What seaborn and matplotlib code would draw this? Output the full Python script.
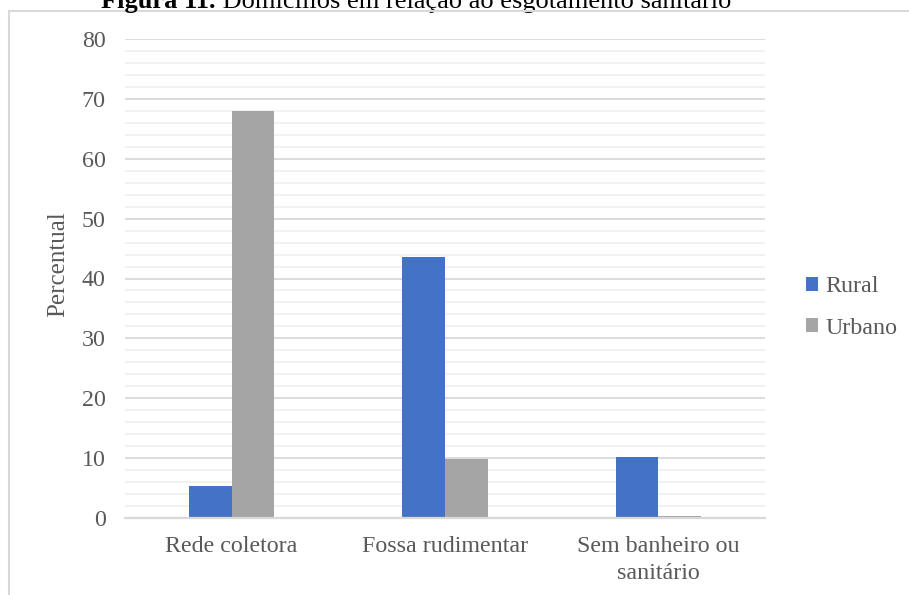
import pandas as pd
import seaborn as sns
import matplotlib.pyplot as plt
from matplotlib.patches import Rectangle
from matplotlib.ticker import MultipleLocator

# values
categories = ['Rede coletora', 'Fossa rudimentar', 'Sem banheiro ou\nsanitário']
series = ['Rural', 'Urbano']
rural = [5.4, 43.6, 10.2]
urbano = [68.0, 9.9, 0.4]
colors = ['#4472C4', '#A5A5A5']
y_ticks = [0, 10, 20, 30, 40, 50, 60, 70, 80]

df = pd.DataFrame({
    'categoria': categories * 2,
    'serie': [series[0]] * len(rural) + [series[1]] * len(urbano),
    'percentual': rural + urbano,
})

sns.set_theme(style='white')
plt.rcParams['font.family'] = ['Liberation Serif', 'DejaVu Serif']
text_color = '#595959'
fs = 17.3

W, H = 909, 595
fig = plt.figure(figsize=(W / 100, H / 100), dpi=100)
ax = fig.add_axes([125 / W, 1 - 518 / H, 640 / W, 479 / H])

sns.barplot(data=df, x='categoria', y='percentual', hue='serie',
            palette=colors, width=0.4, gap=0, saturation=1,
            edgecolor='none', linewidth=0, ax=ax)

ax.set_xlim(-0.5, 2.5)
ax.set_ylim(0, 80)
ax.set_yticks(y_ticks)
ax.yaxis.set_minor_locator(MultipleLocator(2))
ax.grid(axis='y', which='major', color='#d9d9d9', linewidth=1.3)
ax.grid(axis='y', which='minor', color='#f0f0f0', linewidth=1.3)
ax.set_axisbelow(True)
for side in ['top', 'right', 'left']:
    ax.spines[side].set_visible(False)
ax.spines['bottom'].set_color('#d9d9d9')
ax.spines['bottom'].set_linewidth(1.6)

ax.tick_params(axis='both', which='both', length=0, labelsize=fs, labelcolor=text_color)
ax.tick_params(axis='y', pad=14)
ax.tick_params(axis='x', pad=13)
for lbl in ax.get_xticklabels():
    lbl.set_linespacing(1.35)

ax.set_xlabel('')
ax.set_ylabel('Percentual', fontsize=18, color=text_color)
ax.yaxis.set_label_coords(-0.087, 0.53)

sns.move_legend(ax, 'center left', bbox_to_anchor=(806 / W, 1 - 307.5 / H),
                bbox_transform=fig.transFigure, title=None, frameon=False,
                fontsize=fs, labelcolor=text_color, handlelength=0.52,
                handleheight=0.52, handletextpad=0.28, labelspacing=0.85,
                borderpad=0, borderaxespad=0)

# light frame around the chart area (clipped by the image edges)
fig.add_artist(Rectangle((9 / W, -0.1), 1.0, 1 - 11 / H + 0.1,
                         transform=fig.transFigure, fill=False,
                         edgecolor='#d9d9d9', linewidth=1.5, clip_on=False))

# caption, partly cut off at the top as in the original
t1 = fig.text(101 / W, 1 - 8 / H, 'Figura 11.', fontsize=19,
              fontweight='bold', color='black', ha='left', va='baseline')
ax.annotate(' Domicílios em relação ao esgotamento sanitário', xy=(1, 0),
            xycoords=t1, fontsize=19, color='black', ha='left', va='bottom',
            annotation_clip=False)

fig.savefig('out.png', dpi=100)
